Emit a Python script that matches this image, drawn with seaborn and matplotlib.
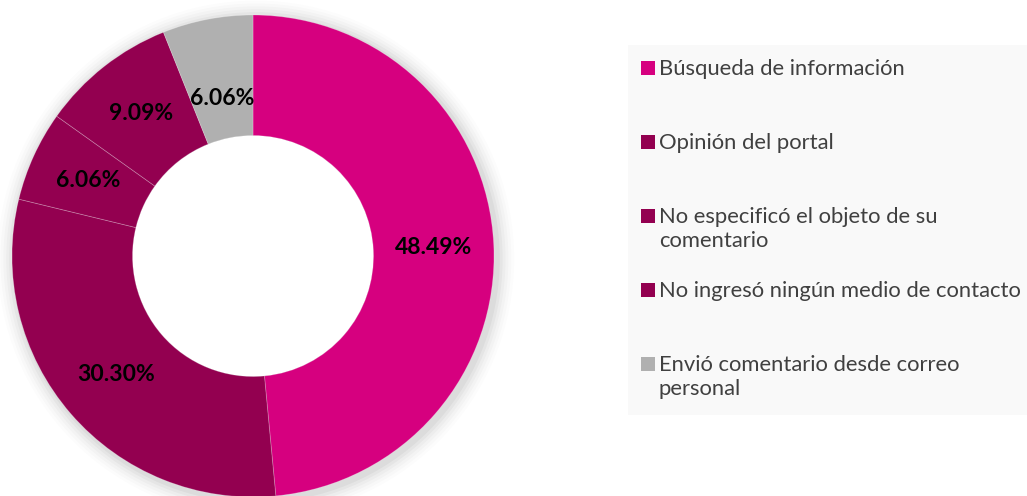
import matplotlib.pyplot as plt
import seaborn as sns
from matplotlib.patches import Rectangle, Circle

# Data (clockwise from 12 o'clock)
categories = [
    'Búsqueda de información',
    'Opinión del portal',
    'No especificó el objeto de su\ncomentario',
    'No ingresó ningún medio de contacto',
    'Envió comentario desde correo\npersonal',
]
values = [48.49, 30.30, 6.06, 9.09, 6.06]
colors = ['#D6007F', '#930050', '#930050', '#930050', '#B0B0B0']

sns.set_theme(style='white')
plt.rcParams['font.family'] = ['Lato', 'DejaVu Sans']

W, H = 1027, 496
fig = plt.figure(figsize=(W / 100, H / 100), dpi=100)
fig.patch.set_facecolor('white')

# donut: centre (253, 256) px from top-left, radius 241 px
cx, cy, r = 253, H - 256, 241
ax = fig.add_axes([(cx - r) / W, (cy - r) / H, 2 * r / W, 2 * r / H])

# soft outer shadow
for i, a in enumerate([0.035, 0.03, 0.025, 0.02, 0.015, 0.01]):
    ax.add_patch(Circle((0.012, -0.012), 1 + 0.012 * (i + 1), color='black',
                        alpha=a, lw=0, zorder=0, clip_on=False))

wedges, texts, autotexts = ax.pie(
    values, colors=colors, startangle=90, counterclock=False,
    radius=1, autopct='%.2f%%', pctdistance=0.75,
    wedgeprops=dict(width=0.5, edgecolor=(1, 1, 1, 0.25), linewidth=0.6),
    textprops=dict(fontsize=16.5, fontweight='bold', color='black'),
)
for w in wedges:
    w.set_zorder(2)
# white hole on top of the shadow
ax.add_patch(Circle((0, 0), 0.5, color='white', lw=0, zorder=1.5))
# Excel pulls the last small label slightly inward
x, y = autotexts[4].get_position()
autotexts[4].set_position((x * 0.89, y * 0.89))
for t in autotexts:
    t.set_zorder(3)

ax.set_xlim(-1, 1)
ax.set_ylim(-1, 1)
ax.set_aspect('equal')
ax.axis('off')

# legend panel
fig.patches.append(Rectangle((628 / W, 1 - 415 / H), (W - 628) / W, 370 / H,
                             transform=fig.transFigure, facecolor='#F9F9F9',
                             edgecolor='none', zorder=0))
row_y = [68, 142, 216, 290, 364]
for lab, col, yy in zip(categories, colors, row_y):
    fig.patches.append(Rectangle((641 / W, 1 - (yy + 7) / H), 14 / W, 14 / H,
                                 transform=fig.transFigure, facecolor=col,
                                 edgecolor='none', zorder=1))
    fig.text(659 / W, 1 - (yy - 9) / H, lab, fontsize=15.8, color='#404040',
             va='top', ha='left', linespacing=1.22)

fig.savefig('out.png', dpi=100)
